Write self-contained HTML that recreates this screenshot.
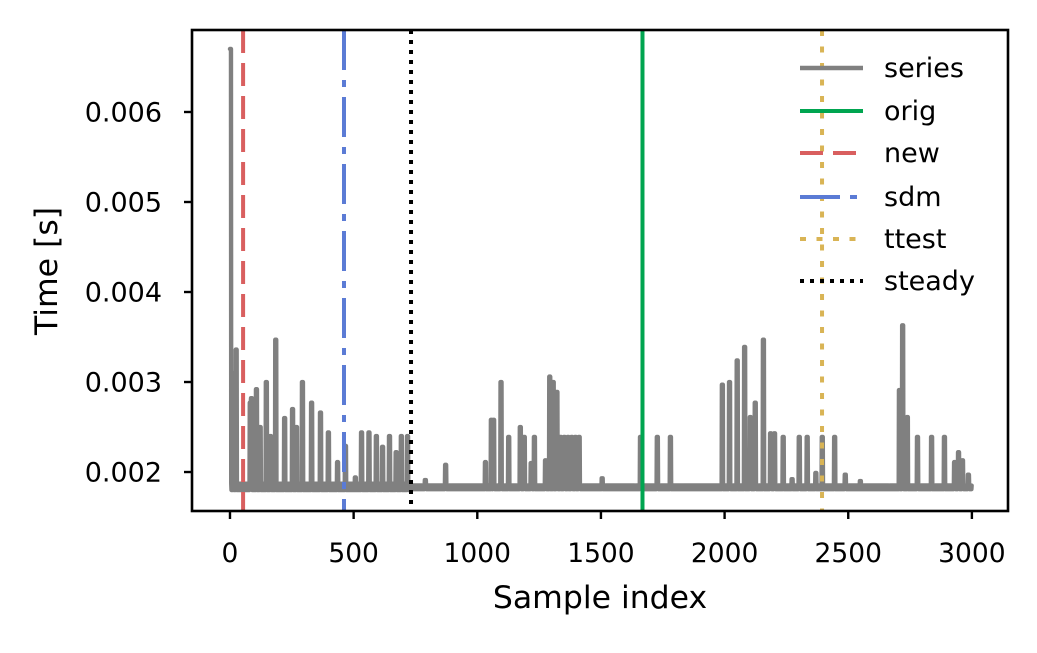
<!DOCTYPE html>
<html><head><meta charset="utf-8"><style>
html,body{margin:0;padding:0;background:#fff;}
svg text{font-family:"DejaVu Sans","Liberation Sans",sans-serif;fill:#000;}
</style></head><body>
<svg id="chart" width="1037" height="648" viewBox="0 0 1037 648" xmlns="http://www.w3.org/2000/svg">
<rect width="1037" height="648" fill="#fff"/>
<defs><clipPath id="clip"><rect x="192" y="30" width="816" height="481"/></clipPath></defs>
<g id="plot" clip-path="url(#clip)"></g>
<g id="axes"></g>
<g id="legend"></g>
</svg>
<script>
// ---- data ----
const xTicks = [0, 500, 1000, 1500, 2000, 2500, 3000];
const yTicks = [0.002, 0.003, 0.004, 0.005, 0.006];
const yTickLabels = ["0.002", "0.003", "0.004", "0.005", "0.006"];
const nSamples = 3000;
const baseSegStart = [0, 730];
const baseLow = [0.00180, 0.00181];
const baseHigh = [0.00187, 0.00185];
const spikeIdx = [0,11,23,80,85,105,120,145,162,183,219,251,267,291,328,364,396,433,465,505,530,560,590,615,643,670,691,716,788,870,1031,1055,1064,1094,1125,1172,1188,1216,1229,1274,1291,1305,1320,1335,1350,1365,1380,1395,1410,1503,1658,1726,1779,1989,2018,2049,2079,2102,2122,2155,2184,2200,2235,2271,2300,2332,2367,2393,2443,2486,2547,2705,2718,2737,2778,2835,2887,2928,2944,2960,2984];
const spikeVal = [0.0067,0.0031,0.00336,0.00277,0.00282,0.00292,0.0025,0.0030,0.0024,0.00347,0.0026,0.0027,0.0025,0.0030,0.00277,0.00266,0.00244,0.00211,0.00229,0.00194,0.00244,0.00244,0.0024,0.00228,0.0024,0.00222,0.0024,0.0024,0.00191,0.00208,0.00211,0.00258,0.00258,0.0030,0.00239,0.0025,0.00239,0.0021,0.00239,0.00213,0.00306,0.0030,0.00289,0.00239,0.00239,0.00239,0.00239,0.00239,0.00239,0.00193,0.00239,0.00239,0.00239,0.00297,0.0030,0.00324,0.00339,0.00261,0.00277,0.00347,0.00243,0.00243,0.00239,0.00192,0.00239,0.00239,0.00199,0.00239,0.00239,0.00197,0.00190,0.00291,0.00363,0.00261,0.00239,0.00239,0.00239,0.00211,0.00222,0.00213,0.00197];
const vNames = ["orig","new","sdm","ttest","steady"];
const vPos = [1668, 53, 461, 2394, 732];
const vColors = ["#00a550","#d95f5f","#5b7bd5","#d9b455","#000000"];
const vDash = ["", "23 10", "40 10 7 10", "6 10.5", "4 6"];

// ---- scales ----
const X0=192, X1=1008, Y0=30, Y1=511;
const xMin=-153.6, xMax=3146, yMin=0.001567, yMax=0.006911;
const sx = v => X0 + (v - xMin) / (xMax - xMin) * (X1 - X0);
const sy = v => Y1 - (v - yMin) / (yMax - yMin) * (Y1 - Y0);
const NS="http://www.w3.org/2000/svg";
function mk(tag, attrs, parent){const e=document.createElementNS(NS,tag);for(const k in attrs)e.setAttribute(k,attrs[k]);parent.appendChild(e);return e;}
const plot=document.getElementById('plot'), axes=document.getElementById('axes'), legend=document.getElementById('legend');

// series values
const vals=[];
for(let i=0;i<nSamples;i++){
  let s=0; for(let k=0;k<baseSegStart.length;k++) if(i>=baseSegStart[k]) s=k;
  vals.push(i%2 ? baseHigh[s] : baseLow[s]);
}
for(let k=0;k<spikeIdx.length;k++){
  for(let d=0; d<5; d++){ const j=spikeIdx[k]+d; if(j<nSamples) vals[j]=Math.max(vals[j], spikeVal[k]); }
}
let pts=vals.map((v,i)=>sx(i).toFixed(2)+','+sy(v).toFixed(2)).join(' ');
const series=mk('polyline',{points:pts,fill:'none',stroke:'#808080','stroke-width':4.4,'stroke-linejoin':'round','stroke-linecap':'round'},plot);



// vertical markers
for(let k=0;k<vNames.length;k++){
  const ln=mk('line',{x1:sx(vPos[k]),x2:sx(vPos[k]),y1:Y0,y2:Y1,stroke:vColors[k],'stroke-width':4},plot);
  if(vDash[k]) ln.setAttribute('stroke-dasharray',vDash[k]);
  
  
}

// frame
const fr=mk('rect',{x:X0,y:Y0,width:X1-X0,height:Y1-Y0,fill:'none',stroke:'#000','stroke-width':2.6},axes);



// x ticks
for(const t of xTicks){
  const x=sx(t);
  mk('line',{x1:x,x2:x,y1:Y1,y2:Y1+8,stroke:'#000','stroke-width':2.4},axes);
  const tx=mk('text',{x:x,y:562,'text-anchor':'middle','font-size':26.5},axes);
  tx.textContent=String(t);
  
  
}
// y ticks
for(let k=0;k<yTicks.length;k++){
  const y=sy(yTicks[k]);
  mk('line',{x1:X0-8,x2:X0,y1:y,y2:y,stroke:'#000','stroke-width':2.4},axes);
  const ty=mk('text',{x:162,y:y+9.5,'text-anchor':'end','font-size':27},axes);
  ty.textContent=yTickLabels[k];
  
  
}
const xl=mk('text',{x:600,y:608,'text-anchor':'middle','font-size':31.5},axes);
xl.textContent='Sample index';


const yl=mk('text',{x:0,y:0,'text-anchor':'middle','font-size':31.5,transform:'translate(57,271) rotate(-90)'},axes);
yl.textContent='Time [s]';



// legend
const legNames=["series","orig","new","sdm","ttest","steady"];
const legColors=["#808080","#00a550","#d95f5f","#5b7bd5","#d9b455","#000000"];
const legDash=["","","23 10","40 10 7 10","6 10.5","4 6"];
const legY=[68,111,153,197,239,281];
for(let k=0;k<legNames.length;k++){
  const l=mk('line',{x1:800,x2:863,y1:legY[k],y2:legY[k],stroke:legColors[k],'stroke-width':k==0?4.4:4},legend);
  if(legDash[k]) l.setAttribute('stroke-dasharray',legDash[k]);
  
  
  const t=mk('text',{x:884,y:legY[k]+9,'font-size':27},legend);
  t.textContent=legNames[k];
  
  
}
</script>
</body></html>
